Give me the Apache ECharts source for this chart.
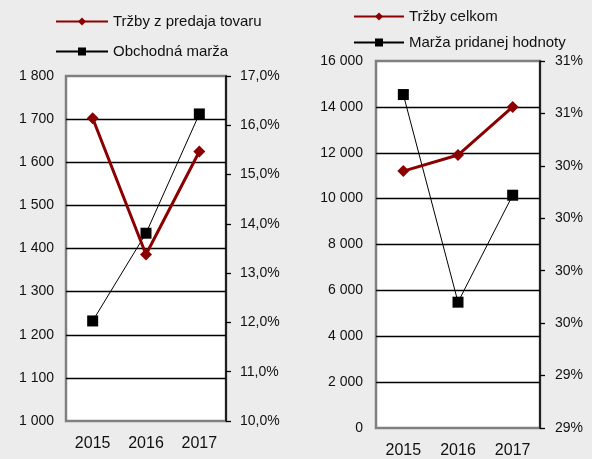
<!DOCTYPE html>
<html>
<head>
<meta charset="utf-8">
<script src="https://cdn.jsdelivr.net/npm/echarts@6/dist/echarts.min.js"></script>
<style>
  html, body { margin: 0; padding: 0; background: #ececec; }
  #chart { width: 592px; height: 459px; }
</style>
</head>
<body>
<div id="chart"></div>
<script>
  // roky
  let years = ['2015', '2016', '2017'];
  // lavy graf
  let trzbyTovar = [1702, 1386, 1625];
  let obchodnaMarza = [12.03, 13.81, 16.23];
  // pravy graf
  let trzbyCelkom = [11200, 11900, 14000];
  let marzaPH = [30.59, 29.60, 30.11];

  let red = '#8b0000';
  let txt = '#111';
  let font = 'Liberation Sans, Arial, sans-serif';

  function thousands(v) {
    return String(v).replace(/\B(?=(\d{3})+(?!\d))/g, ' ');
  }

  let myChart = echarts.init(document.getElementById('chart'));
  myChart.setOption({
    backgroundColor: '#ececec',
    textStyle: {fontFamily: font, color: txt},
    animation: false,
    legend: [{
      orient: 'vertical',
      left: 50,
      top: 9,
      itemWidth: 52,
      itemHeight: 10,
      itemGap: 15,
      textStyle: {fontSize: 15, color: txt, fontFamily: font},
      data: ['Tržby z predaja tovaru', 'Obchodná marža']
    }, {
      orient: 'vertical',
      left: 348,
      top: 4,
      itemWidth: 50,
      itemHeight: 10,
      itemGap: 11,
      textStyle: {fontSize: 15, color: txt, fontFamily: font},
      data: ['Tržby celkom', 'Marža pridanej hodnoty']
    }],
    grid: [{
      left: 66, top: 76, width: 160, height: 345,
      show: true, backgroundColor: '#fff', borderColor: '#808080', borderWidth: 2.5
    }, {
      left: 376, top: 61, width: 164, height: 368,
      show: true, backgroundColor: '#fff', borderColor: '#808080', borderWidth: 2.5
    }],
    xAxis: [{
      type: 'category', gridIndex: 0, data: years,
      axisLine: {show: false}, axisTick: {show: false},
      axisLabel: {fontSize: 16, color: txt, margin: 15}
    }, {
      type: 'category', gridIndex: 1, data: years,
      axisLine: {show: false}, axisTick: {show: false},
      axisLabel: {fontSize: 16, color: txt, margin: 15}
    }],
    yAxis: [{
      type: 'value', gridIndex: 0, min: 1000, max: 1800, interval: 100,
      axisLine: {show: false}, axisTick: {show: false},
      axisLabel: {fontSize: 14, color: txt, margin: 12, formatter: thousands},
      splitLine: {show: true, showMinLine: false, showMaxLine: false, lineStyle: {color: '#000', width: 1.3}}
    }, {
      type: 'value', gridIndex: 0, position: 'right', min: 10, max: 17, interval: 1,
      axisLine: {show: true, lineStyle: {color: '#000', width: 1.5}},
      axisTick: {show: true, length: 5, lineStyle: {color: '#000', width: 1.3}},
      axisLabel: {fontSize: 14, color: txt, margin: 14,
        formatter: v => v.toFixed(1).replace('.', ',') + '%'},
      splitLine: {show: false}
    }, {
      type: 'value', gridIndex: 1, min: 0, max: 16000, interval: 2000,
      axisLine: {show: false}, axisTick: {show: false},
      axisLabel: {fontSize: 14, color: txt, margin: 13, formatter: thousands},
      splitLine: {show: true, showMinLine: false, showMaxLine: false, lineStyle: {color: '#000', width: 1.3}}
    }, {
      type: 'value', gridIndex: 1, position: 'right', min: 29, max: 30.75, interval: 0.25,
      axisLine: {show: true, lineStyle: {color: '#000', width: 1.5}},
      axisTick: {show: true, length: 5, lineStyle: {color: '#000', width: 1.3}},
      axisLabel: {fontSize: 14, color: txt, margin: 15,
        formatter: v => Math.round(v) + '%'},
      splitLine: {show: false}
    }],
    series: [{
      name: 'Tržby z predaja tovaru',
      type: 'line',
      xAxisIndex: 0, yAxisIndex: 0,
      data: trzbyTovar,
      symbol: 'diamond', symbolSize: 12,
      itemStyle: {color: red},
      lineStyle: {color: red, width: 3},
      z: 3
    }, {
      name: 'Obchodná marža',
      type: 'line',
      xAxisIndex: 0, yAxisIndex: 1,
      data: obchodnaMarza,
      symbol: 'rect', symbolSize: 11,
      itemStyle: {color: '#000'},
      lineStyle: {color: '#000', width: 1},
      z: 2
    }, {
      name: 'Tržby celkom',
      type: 'line',
      xAxisIndex: 1, yAxisIndex: 2,
      data: trzbyCelkom,
      symbol: 'diamond', symbolSize: 12,
      itemStyle: {color: red},
      lineStyle: {color: red, width: 3},
      z: 3
    }, {
      name: 'Marža pridanej hodnoty',
      type: 'line',
      xAxisIndex: 1, yAxisIndex: 3,
      data: marzaPH,
      symbol: 'rect', symbolSize: 11,
      itemStyle: {color: '#000'},
      lineStyle: {color: '#000', width: 1},
      z: 2
    }]
  });
</script>
</body>
</html>
